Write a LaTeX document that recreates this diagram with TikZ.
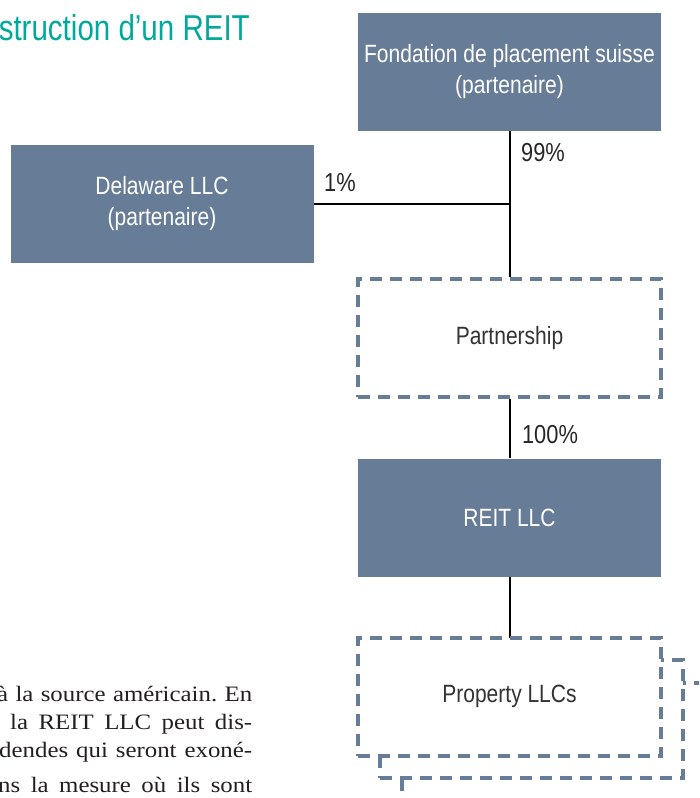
\documentclass[tikz,border=0pt]{standalone}
\usepackage{fontspec}
\setmainfont{Liberation Serif}
\newfontfamily\boxfont[FakeStretch=0.84]{Liberation Sans}
\newfontfamily\titlefont[FakeStretch=0.82]{Liberation Sans}
\newfontfamily\bodyfont[FakeStretch=1.13]{Liberation Serif}
\definecolor{slate}{HTML}{677C96}
\definecolor{titleteal}{HTML}{00A99A}
\definecolor{textdark}{HTML}{333333}
\definecolor{bodydark}{HTML}{231F20}
\begin{document}
\begin{tikzpicture}[x=1pt,y=-1pt,
  filledbox/.style={fill=slate, text=white, minimum width=303pt, minimum height=118pt,
    inner sep=0pt, align=center, font=\boxfont\fontsize{25}{31}\selectfont},
  dashbox/.style={draw=slate, line width=4pt, dash pattern=on 12pt off 8pt, fill=white,
    text=textdark, minimum width=303pt, minimum height=118pt, inner sep=0pt,
    align=center, font=\boxfont\fontsize{25}{31}\selectfont},
  pct/.style={font=\boxfont\fontsize{26}{30}\selectfont, text=black!85, inner sep=0pt},
  conn/.style={line width=2pt, black},
  bodyline/.style={anchor=base west, inner sep=0pt, text=bodydark, font=\bodyfont\fontsize{22}{28}\selectfont}
]
\useasboundingbox (0,0) rectangle (699,798);
\clip (0,0) rectangle (699,798);

% title
\node[anchor=base east, inner sep=0pt, text=titleteal, font=\titlefont\fontsize{36}{40}\selectfont] (title) at (250,40) {struction d’un REIT};

% boxes
\node[filledbox] (fond) at (509.5,72) {Fondation de placement suisse\\(partenaire)};
\node[filledbox] (dela) at (162,204) {Delaware LLC\\(partenaire)};
\node[dashbox] (part) at (509.5,338) {Partnership};
\node[filledbox] (reit) at (509.5,517.5) {REIT LLC};

% connectors
\coordinate (j) at (fond.south |- dela.east);
\draw[conn] (fond.south) -- (part.north);
\draw[conn] (dela.east) -- (j);
\draw[conn] (part.south) -- (reit.north);
\draw[conn] (reit.south) -- (509.5,640);

\node[dashbox] (prop3) at (553.5,741.5) {};
\node[dashbox] (prop2) at (531.5,719) {};
\node[dashbox] (prop) at (509.5,696.5) {Property LLCs};

% percentages
\node[pct] (p99) at (543,153) {99\%};
\node[pct] (p1) at (340,183) {1\%};
\node[pct] (p100) at (550,435) {100\%};

% body text (justified lines, cut at the left edge)
\node[bodyline] (l1) at (-3,701) {\hbox to 255pt{à\hfill la\hfill source\hfill américain.\hfill En}};
\node[bodyline] (l2) at (10,729) {\hbox to 242pt{la\hfill REIT\hfill LLC\hfill peut\hfill dis-}};
\node[bodyline] (l3) at (-1,757) {\hbox to 253pt{dendes\hfill qui\hfill seront\hfill exoné-}};
\node[bodyline] (l4) at (-2,792) {\hbox to 254pt{ns\hfill la\hfill mesure\hfill où\hfill ils\hfill sont}};
\end{tikzpicture}
\end{document}
